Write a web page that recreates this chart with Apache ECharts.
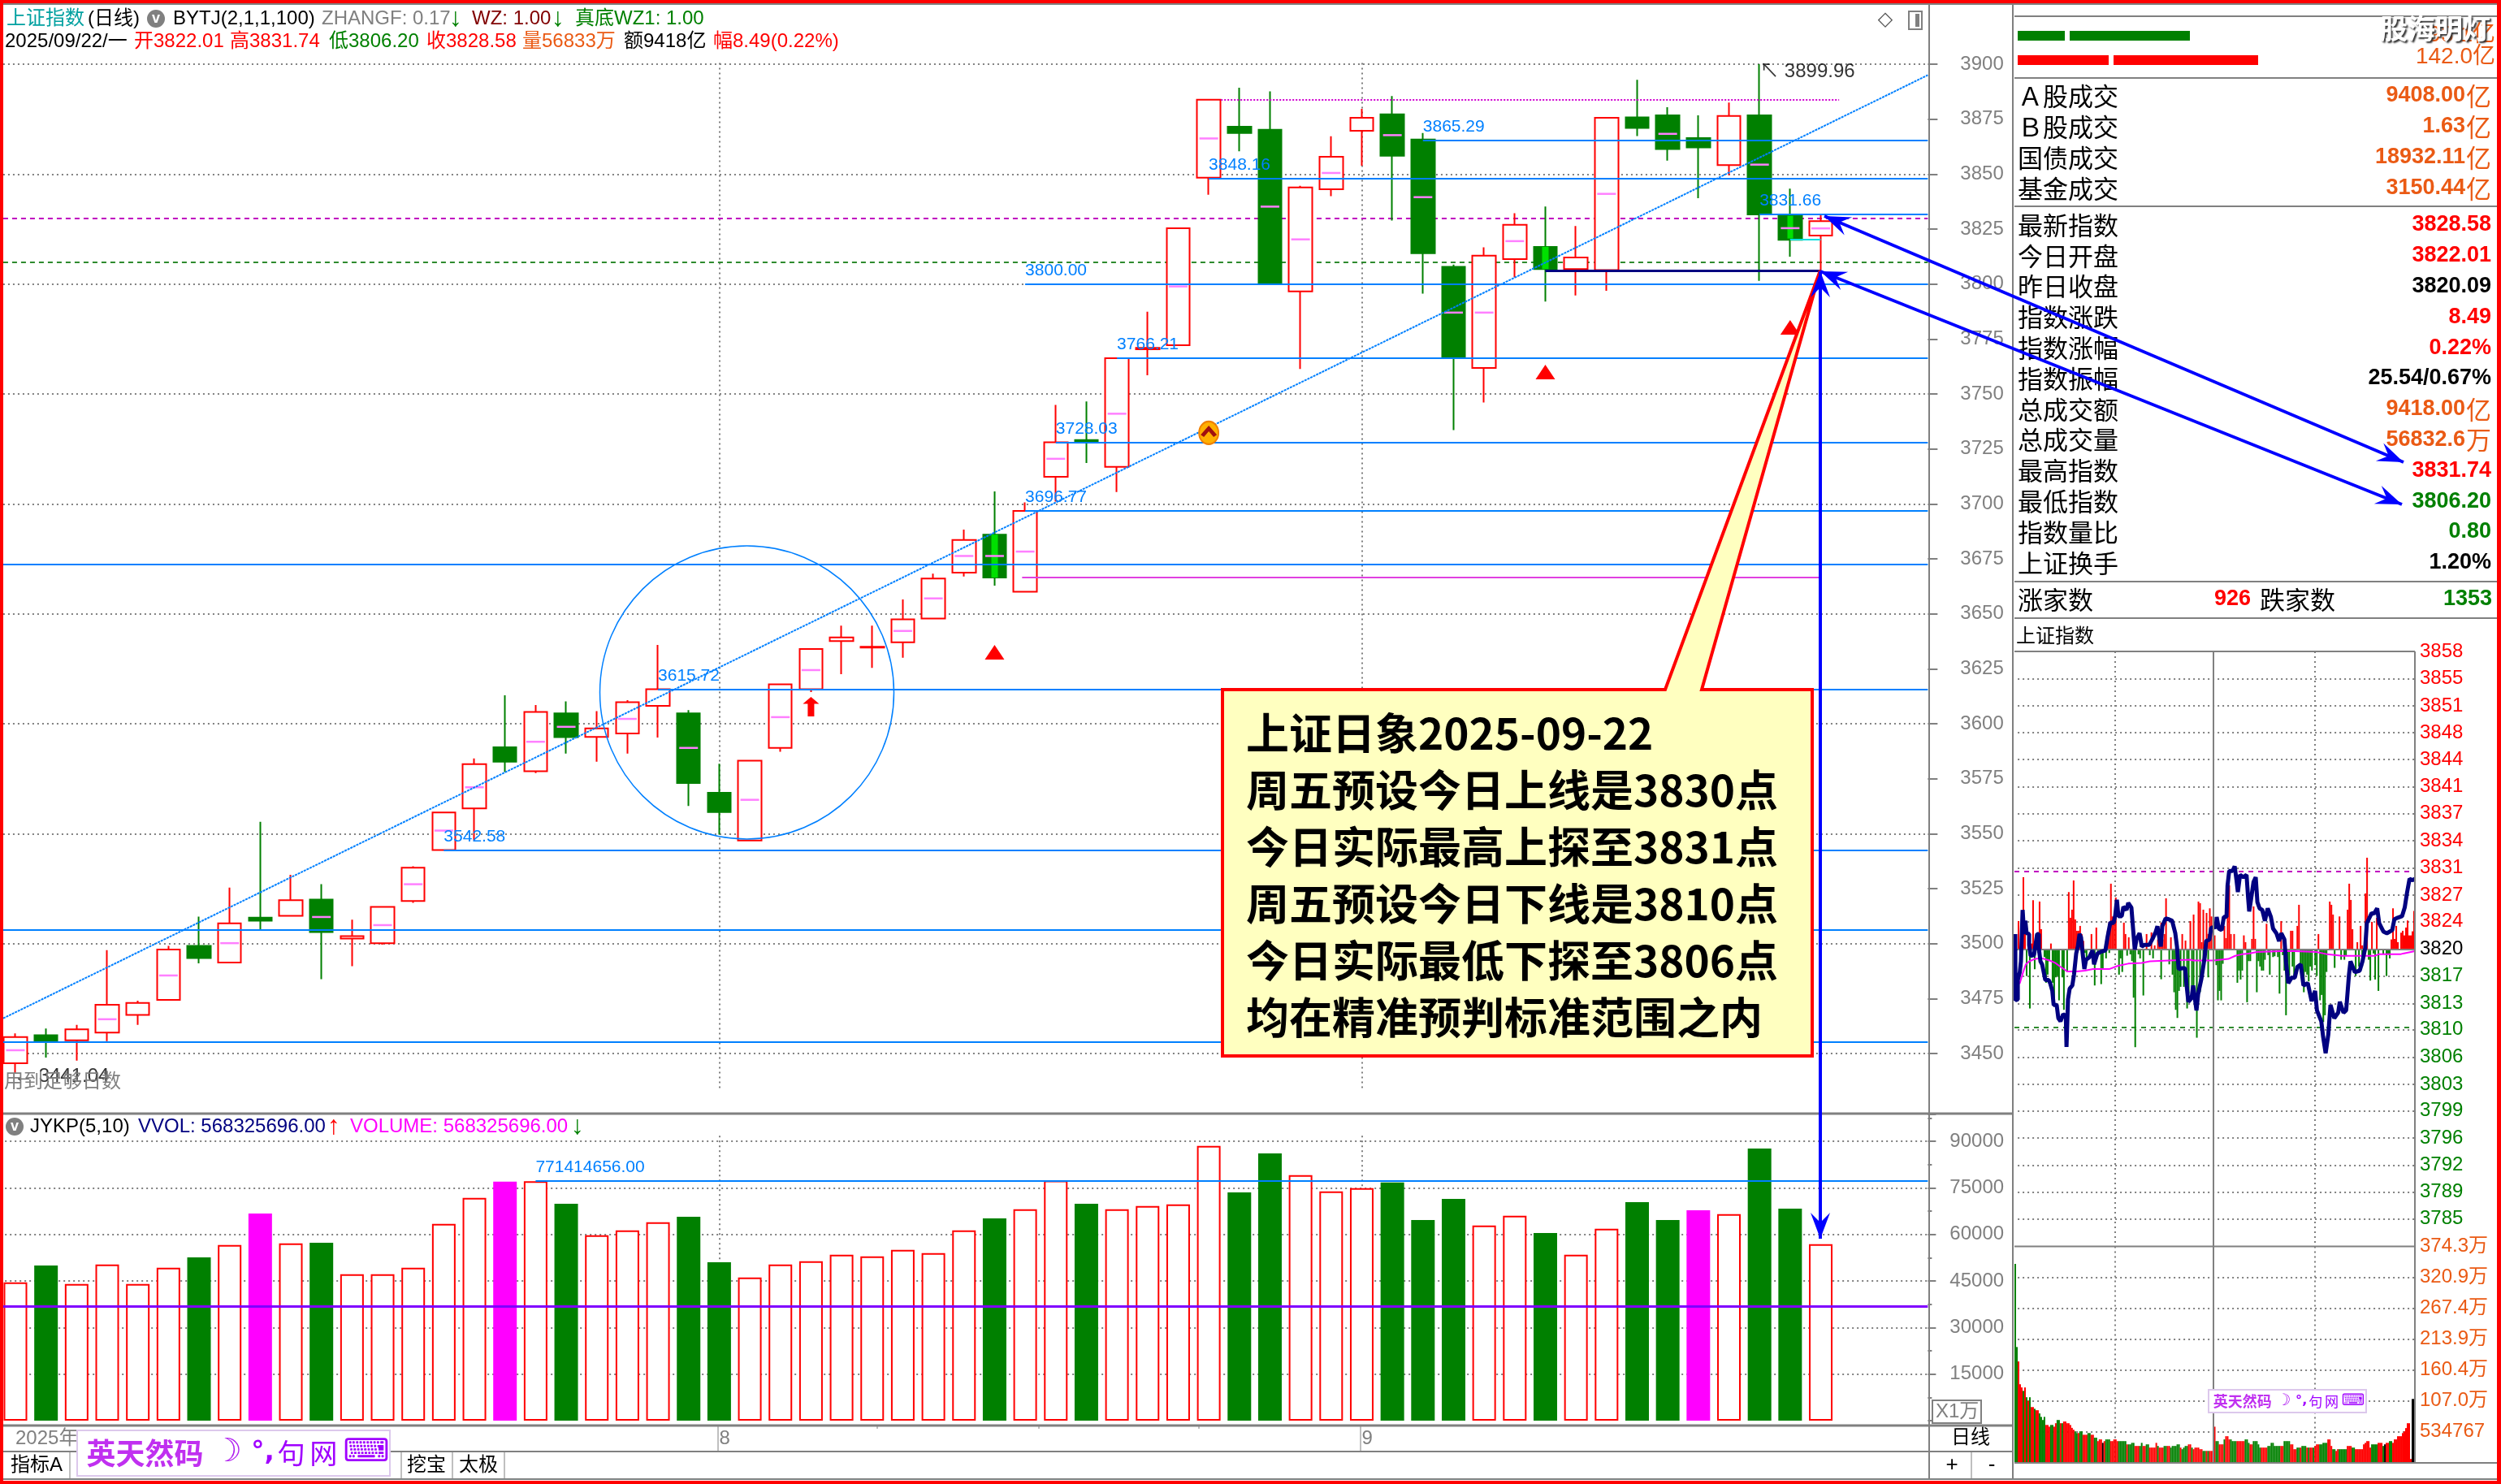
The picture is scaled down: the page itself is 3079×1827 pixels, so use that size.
<!DOCTYPE html>
<html>
<head>
<meta charset="utf-8">
<title>上证指数</title>
<script src="https://cdn.jsdelivr.net/npm/echarts@6/dist/echarts.min.js"></script>
<style>
html, body { margin: 0; padding: 0; background: #fff; }
#main { width: 3079px; height: 1827px; }
</style>
</head>
<body>
<div id="main"></div>
<script>
// 日线 7-9月
var tradeDates = [
    '07-01','07-02','07-03','07-04','07-07','07-08','07-09','07-10','07-11','07-14','07-15','07-16','07-17','07-18','07-21','07-22','07-23','07-24','07-25','07-28','07-29','07-30','07-31',
    '08-01','08-04','08-05','08-06','08-07','08-08','08-11','08-12','08-13','08-14','08-15','08-18','08-19','08-20','08-21','08-22','08-25','08-26','08-27','08-28','08-29',
    '09-01','09-02','09-03','09-04','09-05','09-08','09-09','09-10','09-11','09-12','09-15','09-16','09-17','09-18','09-19','09-22','','',''
];
var monthMarks = { 0: '2025年', 23: '8', 44: '9' };

var opens = [3445.6,3458.3,3456,3459.5,3467.6,3474.4,3499,3491.4,3511.8,3512.6,
    3520,3502.3,3500.2,3519.4,3542.6,3561.5,3589.3,3578.4,3604.7,3594,
    3595.6,3608.1,3604.7,3568.6,3546.9,3589,3615.7,3637.6,3634.6,3637,
    3647.8,3668.7,3686,3660,3712.3,3729,3716.8,3770.3,3772.2,3848.4,
    3871.5,3870.2,3796.6,3843.1,3869.7,3877.2,3865.7,3807.8,3761.8,3811.3,
    3816.9,3806.8,3806.3,3875.8,3876.7,3866.4,3854.1,3876.7,3831,3822.01];
var closes = [3457.5,3455.6,3461,3472.2,3473,3497.3,3493.4,3509.2,3510.4,3519.7,
    3505.2,3503.4,3516.7,3534.5,3559.6,3581.6,3582.7,3605.4,3593.9,3597.9,
    3609.8,3615.72,3573,3559.8,3583.2,3617.9,3634,3639.3,3635,3647.5,
    3666,3683.6,3666.5,3696.77,3728.03,3728,3766.21,3771,3825.4,3883.8,
    3868.7,3800.5,3843.9,3857.9,3875.6,3858.3,3814,3766.6,3812.9,3826.9,
    3806.8,3812.1,3875.6,3871,3861.4,3862.1,3876.4,3831.66,3820.09,3828.58];
var lows = [3441.04,3448.2,3446.8,3455.6,3463,3474.4,3491,3491.4,3506.5,3512.6,
    3483.8,3489.7,3499.5,3518.5,3542.3,3547,3578,3577.6,3586.4,3582.7,
    3586.4,3593.7,3562.6,3549.6,3546.5,3587.3,3614.4,3622.5,3625.4,3630,
    3647.8,3667,3662.8,3660,3701,3718.6,3705.4,3758.5,3771.9,3840.6,
    3860.4,3800.5,3761.4,3840,3853.8,3828.9,3795.6,3733.6,3746.1,3803,
    3792,3794.8,3796.9,3867.3,3856.1,3839,3849.5,3801.4,3812.4,3806.2];
var highs = [3459.2,3461.4,3463,3497,3474,3499,3512.3,3525.5,3555.4,3531.3,
    3527,3510.9,3516.9,3535.2,3560,3584.2,3612.9,3608.5,3610.2,3605.7,
    3610.7,3635.8,3606.2,3581.8,3583.2,3618,3634.4,3644.6,3644.6,3656.5,
    3668.3,3688.3,3705.7,3700.7,3745,3746.6,3766.4,3787.4,3825.7,3884,
    3889.3,3887.6,3844.7,3867.2,3879.7,3885.5,3868.7,3808.8,3816.7,3832.2,
    3835.2,3826.4,3875.6,3892.9,3880.4,3876.7,3882.5,3899.96,3843.4,3831.74];

// 实体中间的粉色短线 [序号, 价位]
var midTicks = [[0,3451.5],[3,3465.6],[5,3485.5],[7,3500.2],[10,3512.1],[12,3508.4],[13,3527],[14,3551.4],[15,3571.1],[17,3591.8],
    [18,3598.6],[20,3602.2],[22,3589],[24,3565.4],[25,3603],[26,3624.4],[29,3642.2],[30,3657],[31,3676.3],[32,3676.3],
    [33,3678.3],[34,3720.5],[36,3741],[38,3798.9],[39,3866.2],[41,3835.2],[42,3820.3],[43,3850.5],[45,3867.7],[46,3839.5],
    [47,3787],[48,3787],[49,3819.5],[52,3841],[54,3868.3],[57,3854.3],[58,3825.4],[59,3825.3]];
var limeCandles = [[32,3686,3666.5],[50,3816.9,3806.8],[58,3831,3820.7]];

var dailyVolume = [44559,49966,44036,50314,44036,49268,52582,56593,66708,57116,
    57290,47175,47175,49268,63394,71766,77000,77141,69847,59732,
    61302,63918,65662,51012,46129,50314,51361,53454,52930,55023,
    53977,61302,65138,68103,77300,69847,68103,69150,69673,88508,
    73510,86066,79090,73858,74905,76736,64615,71417,62871,66010,
    60430,53454,61825,70370,64615,67754,66534,87636,68278,56833];
var volumeKinds = 'rgrrrrgrmr' + 'grrrrrmrgr' + 'rrggrrrrrr' + 'rrgrrgrrrr' + 'ggrrrgggrr' + 'grrggmrggr';

// 分时
var minuteTimes = [0.5,0.6,2,2,3.2,3.9,4.9,5.8,6.5,7.3,8.8,8.8,9.7,11.7,13.6,14.6,14.6,15.6,16.6,18.5,
    20.5,21.4,22.7,23.5,25.3,26.3,27.6,29.2,30.8,31.2,32.1,33.1,34.7,35.7,37,38,39,39.9,40.9,41.9,
    42.9,44.8,46.8,47.7,49.7,51.6,54.5,55.8,57.5,59.4,60.4,61.4,62.3,64.3,65.3,67.2,68.2,70.1,71.1,72.1,
    73.1,75,76.3,77.9,80.8,82.8,84.7,85.7,87.7,88.6,90.6,92.5,94.5,96.4,97.4,98.4,100.3,102.3,103.2,104.2,
    106.2,107.1,109.1,110.1,112,114,114.9,116.9,117.9,120.8,121.2,122.5,124.2,125.5,127.1,127.7,128.7,130.7,132,133.1,
    133.9,135.2,137.2,139.1,140.1,140.7,141.7,143.3,144.6,145.6,146.9,148.5,150.1,151.8,153.7,155,157,158.6,159.9,161.8,
    162.8,164.1,166.1,168,169.6,171.6,173.2,175.8,178.1,180.2,181.3,183.9,185,186.5,188.1,189.4,191.7,194,195,197.2,
    198.8,200.5,201.4,204,206.9,208.6,210.2,211.2,214.1,215.4,217.4,218.6,221.2,223.2,226.4,227.7,229.7,232.3,233.9,235.2,
    236.8,238.6,240];
var minutePrices = [3822,3813.5,3813.6,3816.1,3817.1,3818.5,3825.1,3822,3823.7,3822.1,3822,3820.6,3819.2,3819.3,3822,3822,3820.2,3818.5,3818.1,3816.1,
    3816.1,3815.7,3814.7,3812.9,3812.9,3811.2,3810.8,3811.7,3811.5,3807.5,3813.6,3815,3815.4,3816.8,3819.5,3820.4,3822,3821.6,3819.5,3817.5,
    3818.7,3819,3819.9,3818.1,3819.5,3819.7,3819.9,3821.6,3823.5,3823.4,3824.4,3826.4,3824.3,3824.3,3825.5,3825.1,3826,3825.4,3822.7,3820,
    3821.3,3822.1,3820.4,3820.6,3820.6,3821.4,3822.3,3823,3820.4,3823,3824,3823.9,3823.7,3822.1,3820.4,3817.5,3817.6,3817.6,3815.4,3813.3,
    3813.8,3815.4,3812.2,3814.3,3816.2,3819,3821.1,3821.3,3822.8,3822.9,3824.2,3822.7,3822.5,3824.2,3824.2,3828.2,3830.1,3830.1,3830.7,3828.9,
    3827.4,3829.6,3829.3,3829.6,3826.5,3824.9,3826.3,3828.7,3829.3,3826.1,3825.3,3825.1,3823.7,3825.3,3824.2,3822.7,3822.1,3821.1,3822.1,3821.3,
    3818.3,3815.7,3816.4,3816.4,3817.8,3818.1,3815.4,3815.7,3813.4,3814.7,3812.2,3810.8,3808.8,3806.7,3809.1,3812.9,3811.2,3811.9,3813.3,3811.9,
    3812.2,3816.8,3818.5,3817.1,3817.3,3818.5,3820.2,3823.4,3824.7,3824.6,3825.3,3823.4,3822.3,3822.1,3822.5,3823.9,3824.1,3824.3,3825.4,3827.2,
    3829.1,3828.9,3829.1];
var avgTimes = [0.5,3.2,5.2,6.8,8.9,12.2,16.2,21.1,24.4,27.6,31.7,37.3,42.2,47.1,56.8,61.7,68.2,76.3,81.2,92.5,105.5,107.1,119.3,128.2,132.3,136.3,140.4,145.3,159.9,168,181,187.5,196.4,215.9,218.3,231.3,232.9,240];
var avgPrices = [3815.4,3815.7,3817.1,3818.1,3818.5,3818.8,3818.9,3818.6,3818.3,3817.8,3817.2,3817.2,3817.3,3817.5,3817.5,3817.9,3818.2,3818.3,3818.5,3818.6,3818.7,3818.6,3818.6,3818.8,3819.2,3819.4,3819.5,3819.7,3819.8,3819.8,3819.7,3819.4,3819.2,3819.2,3819.4,3819.4,3819.5,3819.8];

// 分时红绿柱 [列, 强度]
var redBars = [[2,103],[5,265],[6,103],[10,20],[11,180],[12,20],[14,60],[15,175],[16,73],[22,20],[33,210],[34,115],[35,145],[36,253],[37,109],[38,67],[39,67],[40,85],[41,55],[42,30],
    [47,55],[50,79],[57,67],[58,100],[59,241],[60,120],[61,115],[62,190],[67,97],[68,55],[70,43],[81,55],[84,61],[86,13],[88,35],[89,73],[90,97],[91,35],[92,55],[93,187],
    [96,43],[103,55],[105,31],[108,103],[110,127],[113,175],[114,169],[115,25],[116,145],[118,133],[119,55],[120,150],[121,120],[123,50],[129,85],[130,40],[131,233],[132,235],[133,55],[135,55],
    [141,50],[142,25],[146,37],[147,157],[148,37],[155,93],[164,103],[170,67],[171,67],[174,85],[175,163],[187,55],[194,175],[195,163],[196,127],[200,120],[205,145],[206,241],[207,181],[208,73],
    [211,25],[213,85],[214,13],[216,205],[217,337],[220,100],[223,115],[232,35],[233,150],[234,37],[235,85],[236,25],[238,60],[239,67],[240,50],[241,79],[242,105],[243,50],[244,50],[245,65],[246,140]];
var greenBars = [[3,-40],[4,-65],[7,-100],[9,-220],[12,-75],[14,-15],[15,-50],[18,-30],[19,-125],[20,-95],[21,-45],[23,-125],[24,-190],[25,-105],[26,-100],[27,-190],[29,-105],[30,-225],[32,-85],[43,-15],
    [44,-45],[49,-135],[51,-25],[53,-130],[54,-75],[56,-35],[58,-15],[64,-95],[65,-35],[66,-85],[69,-25],[71,-20],[72,-45],[73,-180],[74,-363],[76,-20],[77,-35],[79,-172],[83,-23],[85,-35],
    [90,-112],[95,-57],[97,-95],[98,-160],[99,-225],[100,-255],[101,-155],[102,-140],[104,-140],[106,-220],[107,-165],[109,-170],[110,-155],[112,-328],[114,-160],[116,-45],[119,-105],[124,-60],[125,-190],[126,-155],
    [127,-190],[128,-55],[137,-125],[138,-80],[139,-113],[140,-80],[143,-197],[144,-45],[145,-45],[149,-160],[150,-45],[151,-65],[152,-80],[153,-80],[154,-40],[156,-23],[157,-95],[159,-30],[160,-27],[162,-30],
    [163,-165],[165,-23],[166,-80],[167,-245],[168,-70],[169,-100],[171,-65],[172,-100],[176,-63],[177,-95],[178,-160],[179,-85],[180,-95],[181,-120],[182,-65],[183,-80],[185,-60],[186,-100],[188,-190],[189,-170],
    [190,-270],[191,-245],[192,-85],[197,-70],[201,-40],[203,-40],[204,-25],[210,-100],[212,-65],[214,-65],[218,-40],[219,-117],[221,-17],[222,-113],[224,-155],[227,-20],[229,-100],[230,-20],[231,-35]];

// 分时量,单位万
var intradayVol = [344,200,175,135.5,130,124,130,113,107,113,
    96,96,93,90.5,90.5,85,79,73.6,79,65,
    65,62,65,65,62,68,73.6,73.6,68,68,
    71,71,68,68,65,60,56.7,54,51,51,
    54,54,48,48,48,51,51,48,48,43,
    43,37,40,40,34,37,40,40,40,37,
    37,40,40,37,37,37,37,37,37,31.4,
    31.4,31.4,34,34,28.6,28.6,28.6,28.6,34,28.6,
    28.6,31.4,31.4,25.8,25.8,25.8,25.8,34,28.6,25.8,
    25.8,25.8,28.6,28.6,28.6,28.6,25.8,28.6,28.6,28.6,
    31.4,31.4,25.8,23,25.8,28.6,28.6,31.4,31.4,25.8,
    23,25.8,25.8,25.8,23,23,20,20,20,20,
    20,20,20,62,37,37,31.4,31.4,31.4,40,
    45.5,45.5,40,40,37,37,37,37,37,37,
    37,37,40,40,34,31.4,31.4,37,37,37,
    31.4,25.8,25.8,25.8,25.8,25.8,28.6,28.6,34,34,
    28.6,28.6,28.6,28.6,28.6,28.6,37,37,37,37,
    31.4,31.4,23,23,25.8,25.8,25.8,28.6,28.6,28.6,
    25.8,25.8,25.8,25.8,25.8,28.6,31.4,31.4,31.4,31.4,
    34,34,34,40,40,28.6,23,23,20,23,
    23,23,23,23,23,28.6,28.6,28.6,25.8,25.8,
    23,23,23,23,23,31.4,34,37,37,25.8,
    31.4,31.4,31.4,31.4,34,34,34,28.6,31.4,34,
    34,37,37,34,40,40,45.5,45.5,45.5,51,
    54,59.6,68,68,6,110,110];
var intradaySides = 'ggrrrgrgrg' + 'rrgrrggggr' + 'rrggrrggrg' + 'rrrrrrrggr' + 'ggrrrggrrg' + 'grrrkrgggr' + 'rrrrgggggr' + 'ggggrrrggr' +
    'rggrrrrrgr' + 'rrggrrgggg' + 'ggrggggrrg' + 'rrrrrrggrg' + 'rrrrggrrrg' + 'rrrggggrrr' + 'rrgggrrggg' + 'ggrrrrgggg' + 'ggggrrgggg' +
    'rrrrggrggg' + 'rgrrgrrrgg' + 'gggrrrggrr' + 'gggggrrrgg' + 'rrrrrrrrrr' + 'ggggrrrgkr' + 'rggrrrrrrr' + 'rrrrrkk';

var priceLevels = [3858.29,3854.8,3851.3,3847.87,3844.4,3840.9,3837.45,3834,3830.5,3827,3823.6,3820.09,3816.6,3813.1,3809.7,3806.2,3802.7,3799.3,3795.8,3792.3,3788.9,3785.4];
var priceLevelText = ['3858','3855','3851','3848','3844','3841','3837','3834','3831','3827','3824','3820','3817','3813','3810','3806','3803','3799','3796','3792','3789','3785'];
var intradayVolText = ['','534767','107.0万','160.4万','213.9万','267.4万','320.9万','374.3万'];

var supportLevels = [['3865.29',46],['3848.16',39],['3831.66',57],['3800.00',33],['3766.21',36],['3728.03',34],['3696.77',33],['3615.72',21],['3542.58',14]];
var fullLevels = [3672.4,3506.2,3455.3];

var panelNames = ['Ａ股成交','Ｂ股成交','国债成交','基金成交','最新指数','今日开盘','昨日收盘','指数涨跌','指数涨幅','指数振幅','总成交额','总成交量','最高指数','最低指数','指数量比','上证换手'];
var panelValues = ['9408.00','1.63','18932.11','3150.44','3828.58','3822.01','3820.09','8.49','0.22%','25.54/0.67%','9418.00','56832.6','3831.74','3806.20','0.80','1.20%'];
var panelUnits = ['亿','亿','亿','亿','','','','','','','亿','万','','','',''];
var panelTones = ['o','o','o','o','r','r','k','r','r','k','o','o','r','g','g','k'];

var noteLines = ['上证日象2025-09-22','周五预设今日上线是3830点','今日实际最高上探至3831点','周五预设今日下线是3810点','今日实际最低下探至3806点','均在精准预判标准范围之内'];

var RED = '#ff0000', GREEN = '#008000', MAGENTA = '#ff00ff', BLUE = '#0080ff', ARROW = '#0000ff', GRAY = '#808080', ORANGE = '#ea5a14';
var LATIN = '"Liberation Sans","Noto Sans CJK SC",sans-serif';
var DOT = [2, 4];

var tones = { o: ORANGE, r: RED, g: GREEN, k: '#000' };

function txt(x, y, text, color, size, opt) {
    opt = opt || {};
    return {
        type: 'text', z: opt.z || 120, silent: true,
        style: {
            x: x, y: y, text: text, fill: color,
            font: (opt.weight || 'normal') + ' ' + size + 'px ' + (opt.family || LATIN),
            align: opt.align || 'left', verticalAlign: 'middle',
            textShadowColor: opt.shadow, textShadowBlur: opt.shadow ? 2 : 0, textShadowOffsetX: opt.shadow ? 2 : 0, textShadowOffsetY: opt.shadow ? 2 : 0
        }
    };
}

function seg(x1, y1, x2, y2, color, width, dash, z) {
    return {
        type: 'line', z: z || 90, silent: true,
        shape: { x1: x1, y1: y1, x2: x2, y2: y2 },
        style: { stroke: color, lineWidth: width || 2, lineDash: dash }
    };
}

function box(x, y, w, h, fill, stroke, z) {
    return {
        type: 'rect', z: z || 90, silent: true,
        shape: { x: x, y: y, width: w, height: h },
        style: { fill: fill, stroke: stroke, lineWidth: stroke ? 2 : 0 }
    };
}

function arrowHead(tx, ty, fx, fy) {
    var d = Math.sqrt((tx - fx) * (tx - fx) + (ty - fy) * (ty - fy));
    var ux = (tx - fx) / d, uy = (ty - fy) / d;
    var bx = tx - ux * 32, by = ty - uy * 32;
    var nx = tx - ux * 20, ny = ty - uy * 20;
    return {
        type: 'polygon', z: 140, silent: true,
        shape: { points: [[tx, ty], [bx - uy * 12, by + ux * 12], [nx, ny], [bx + uy * 12, by - ux * 12]] },
        style: { fill: ARROW }
    };
}

function doubleArrow(x1, y1, x2, y2) {
    return [seg(x1, y1, x2, y2, ARROW, 4, null, 139), arrowHead(x1, y1, x2, y2), arrowHead(x2, y2, x1, y1)];
}

function imeBar(x, y, w, h, size) {
    var s = size, cy = y + h / 2, fam = '"Noto Sans CJK SC",sans-serif';
    return [
        { type: 'rect', z: 130, silent: true, shape: { x: x, y: y, width: w, height: h }, style: { fill: '#fff', stroke: '#dcc8ec', lineWidth: 2 } },
        txt(x + w * 0.03, cy, '英天然码', '#c030f0', s, { z: 131, weight: 'bold', family: fam }),
        txt(x + s * 4.65, cy, '☽', '#b020f0', s * 1.1, { z: 131, weight: 'bold', family: '"DejaVu Sans"' }),
        txt(x + s * 5.95, cy, '°,', '#a000ff', s * 0.9, { z: 131, weight: 'bold', family: '"DejaVu Sans"' }),
        txt(x + s * 6.85, cy, '句', '#a000ff', s * 0.95, { z: 131, family: fam }),
        txt(x + s * 7.95, cy, '网', '#a000ff', s * 0.95, { z: 131, family: fam }),
        txt(x + s * 9.1, cy, '⌨', '#a000ff', s * 1.1, { z: 131, family: '"DejaVu Sans"' })
    ];
}

// 只画标注线的系列,坐标走覆盖在同一网格上的数值x轴
function lineGroup(name, xIdx, yIdx, lines, style, z, labelOn) {
    return {
        name: name, type: 'line', xAxisIndex: xIdx, yAxisIndex: yIdx, data: [], z: z, silent: true,
        markLine: {
            silent: true, symbol: 'none', animation: false, z: z,
            lineStyle: style,
            label: labelOn ? { show: true, position: 'insideStartTop', formatter: '{b}', color: BLUE, fontSize: 21, fontFamily: LATIN, distance: 6, padding: [0, 0, 0, -6] } : { show: false },
            emphasis: { disabled: true },
            data: lines
        }
    };
}

function hLine(v, x0, x1, name) {
    return [{ coord: [x0, v], name: name }, { coord: [x1, v] }];
}

var LEFT_END = -0.4, RIGHT_END = 62.5;

var candleData = opens.map(function (o, i) { return [o, closes[i], lows[i], highs[i]]; });

var mainGrid50 = [3900, 3850, 3800, 3750, 3700, 3650, 3600, 3550, 3500, 3450].map(function (v) { return hLine(v, LEFT_END, RIGHT_END); });
var mainVertical = [23, 44].map(function (i) { return [{ coord: [i, 3900.5] }, { coord: [i, 3433] }]; });
var volVertical = [23, 44].map(function (i) { return [{ coord: [i, 91800] }, { coord: [i, 0] }]; });

var labeled = supportLevels.map(function (s) { return hLine(parseFloat(s[0]), s[1], RIGHT_END, s[0]); });
var plainBlue = fullLevels.map(function (v) { return hLine(v, LEFT_END, RIGHT_END); });

var volData = dailyVolume.map(function (v, i) {
    var k = volumeKinds.charAt(i);
    if (k === 'g') return { value: v, itemStyle: { color: GREEN, borderWidth: 0 } };
    if (k === 'm') return { value: v, itemStyle: { color: MAGENTA, borderWidth: 0 } };
    return { value: v, itemStyle: { color: '#fff', borderColor: RED, borderWidth: 2 } };
});
var sideColor = { r: RED, g: GREEN, k: '#000' };
var intradayVolData = intradayVol.map(function (v, i) {
    return { value: v, itemStyle: { color: sideColor[intradaySides.charAt(i)] } };
});
var columns = intradayVol.map(function (v, i) { return i; });

var priceDots = priceLevels.filter(function (v) { return v !== 3820.09 && v !== 3858.29; }).map(function (v) { return hLine(v, 2, 240); });
var volDots = [53.47, 106.94, 160.41, 213.88, 267.35, 320.82].map(function (v) { return hLine(v, 2, 240); });
var minuteVert = function (top, bottom) {
    return [60, 180].map(function (m) { return [{ coord: [m, top] }, { coord: [m, bottom] }]; });
};

var option = {
    animation: false,
    backgroundColor: '#fff',
    textStyle: { fontFamily: LATIN },
    grid: [
        { left: 0.16, top: 11.3, width: 2373.2, height: 1353.4 },
        { left: 0.16, top: 1372, width: 2373.2, height: 377 },
        { left: 2480, top: 802, width: 493, height: 732.5 },
        { left: 2480, top: 1534.5, width: 493, height: 266 },
        { left: 2484, top: 29, width: 300, height: 60 }
    ],
    xAxis: [
        { type: 'category', gridIndex: 0, data: tradeDates, axisLine: { show: false, onZero: false }, axisTick: { show: false }, axisLabel: { show: false } },
        {
            type: 'category', gridIndex: 1, data: tradeDates, axisLine: { show: false, onZero: false }, axisTick: { show: false },
            axisLabel: {
                color: GRAY, fontSize: 24, fontFamily: LATIN, align: 'left', margin: 10,
                interval: function (i) { return monthMarks[i] !== undefined; },
                formatter: function (v, i) { return monthMarks[i] || ''; }
            }
        },
        { type: 'value', gridIndex: 0, min: -0.5, max: 62.5, show: false, axisLine: { onZero: false } },
        { type: 'value', gridIndex: 1, min: -0.5, max: 62.5, show: false, axisLine: { onZero: false } },
        { type: 'value', gridIndex: 2, min: 0, max: 240, show: false, axisLine: { onZero: false } },
        { type: 'value', gridIndex: 3, min: 0, max: 240, show: false, axisLine: { onZero: false } },
        { type: 'category', gridIndex: 2, data: columns, show: false, axisLine: { onZero: false } },
        { type: 'category', gridIndex: 3, data: columns, show: false, axisLine: { onZero: false } },
        { type: 'value', gridIndex: 4, min: 0, max: 300, show: false, axisLine: { onZero: false } }
    ],
    yAxis: [
        {
            type: 'value', gridIndex: 0, position: 'right', min: 3425, max: 3925, interval: 25, splitLine: { show: false }, axisLine: { show: false, onZero: false },
            axisTick: { length: 12, lineStyle: { color: GRAY, width: 2 } },
            axisLabel: { color: GRAY, fontSize: 24, fontFamily: LATIN, margin: 40, showMinLabel: false, showMaxLabel: false, formatter: function (v) { return String(v); } }
        },
        {
            type: 'value', gridIndex: 1, position: 'right', min: 0, max: 98640, interval: 15000, axisLine: { show: false, onZero: false },
            splitLine: { show: true, showMinLine: false, showMaxLine: false, lineStyle: { color: GRAY, width: 2, type: DOT } },
            axisTick: { length: 10, lineStyle: { color: GRAY, width: 2 } },
            minorTick: { show: true, splitNumber: 2, length: 5, lineStyle: { color: GRAY, width: 2 } },
            axisLabel: { color: GRAY, fontSize: 24, fontFamily: LATIN, margin: 27, showMinLabel: false, showMaxLabel: false, formatter: function (v) { return String(v); } }
        },
        {
            type: 'value', gridIndex: 2, position: 'right', min: 3781.89, max: 3858.29, splitLine: { show: false }, axisLine: { show: false, onZero: false }, axisTick: { show: false },
            axisLabel: {
                customValues: priceLevels, margin: 6, fontSize: 24, fontFamily: LATIN,
                color: function (v) { return v > 3821 ? RED : (v < 3819 ? GREEN : '#000'); },
                formatter: function (v) { return priceLevelText[priceLevels.indexOf(v)]; }
            }
        },
        { type: 'value', gridIndex: 2, min: -1099, max: 1099, show: false, axisLine: { onZero: false } },
        {
            type: 'value', gridIndex: 3, position: 'right', min: 0, max: 374.29, interval: 53.47, splitLine: { show: false }, axisLine: { show: false, onZero: false }, axisTick: { show: false },
            axisLabel: {
                margin: 6, color: ORANGE, fontSize: 24, fontFamily: LATIN,
                formatter: function (v) { return intradayVolText[Math.round(v / 53.47)]; }
            }
        },
        { type: 'category', gridIndex: 4, inverse: true, data: ['跌', '涨'], show: false, axisLine: { onZero: false } }
    ],
    series: [
        lineGroup('网格', 2, 0, mainGrid50.concat(mainVertical), { color: GRAY, width: 2, type: DOT }, 1),
        lineGroup('上线', 2, 0, [hLine(3830, LEFT_END, RIGHT_END)], { color: '#c000c0', width: 2, type: [6, 5] }, 1),
        lineGroup('下线', 2, 0, [hLine(3810, LEFT_END, RIGHT_END)], { color: '#2e8b2e', width: 2, type: [6, 5] }, 1),
        {
            name: '上证指数', type: 'candlestick', xAxisIndex: 0, yAxisIndex: 0, barWidth: 29, z: 2, data: candleData,
            itemStyle: { color: '#fff', color0: GREEN, borderColor: RED, borderColor0: GREEN, borderWidth: 2 }
        },
        {
            name: '亮条', type: 'candlestick', xAxisIndex: 0, yAxisIndex: 0, barWidth: 8, z: 3,
            data: limeCandles.map(function (c) { return { value: [c[0], c[2], c[1], c[2], c[1]] }; }),
            encode: { x: 0, y: [1, 2, 3, 4] },
            itemStyle: { color: '#00e000', color0: '#00e000', borderColor: '#00e000', borderColor0: '#00e000', borderWidth: 0 }
        },
        {
            name: '中点', type: 'scatter', xAxisIndex: 0, yAxisIndex: 0, symbol: 'rect', symbolSize: [23, 2.5], z: 4, silent: true,
            itemStyle: { color: '#ff80ff', opacity: 1 }, data: midTicks
        },
        lineGroup('支撑压力', 2, 0, labeled, { color: BLUE, width: 2, type: 'solid' }, 5, true),
        lineGroup('水平线', 2, 0, plainBlue, { color: BLUE, width: 2, type: 'solid' }, 5),
        lineGroup('趋势线', 2, 0, [[{ coord: [LEFT_END, 3466] }, { coord: [RIGHT_END, 3895] }]], { color: BLUE, width: 2, type: [3, 1] }, 5),
        lineGroup('高点线', 2, 0, [hLine(3883.8, 39.4, 59.6)], { color: '#d000d0', width: 2, type: [2, 2] }, 5),
        lineGroup('紫线', 2, 0, [hLine(3666.6, 32.9, 59)], { color: '#e040e0', width: 2, type: 'solid' }, 5),
        lineGroup('低点线', 2, 0, [hLine(3806.2, 50, 59)], { color: '#000080', width: 3, type: 'solid' }, 5),
        lineGroup('昨收线', 2, 0, [hLine(3820.3, 58, 59)], { color: '#00e0e0', width: 2, type: 'solid' }, 5),
        {
            name: '三角', type: 'scatter', xAxisIndex: 0, yAxisIndex: 0, symbol: 'triangle', symbolSize: [24, 18], z: 6, silent: true,
            itemStyle: { color: RED, opacity: 1 }, data: [[32, 3632.5], [50, 3760], [58, 3780.3]]
        },
        {
            name: '箭头', type: 'scatter', xAxisIndex: 0, yAxisIndex: 0, symbol: 'path://M5,0 L10,5 L7,5 L7,14 L3,14 L3,5 L0,5 Z', symbolSize: [20, 24], z: 6, silent: true,
            itemStyle: { color: RED, opacity: 1 }, data: [[26, 3607.8]]
        },
        {
            name: '买点', type: 'scatter', xAxisIndex: 0, yAxisIndex: 0, symbol: 'circle', symbolSize: [24, 28], z: 6, silent: true,
            itemStyle: { color: '#ffb000', borderColor: '#f08000', borderWidth: 2, opacity: 1 }, data: [[39, 3732.3]]
        },
        {
            name: '买点纹', type: 'scatter', xAxisIndex: 0, yAxisIndex: 0, symbol: 'path://M0,8 L5,0 L10,8 L8,10 L5,5 L2,10 Z', symbolSize: [20, 14], z: 7, silent: true,
            itemStyle: { color: '#a01010', opacity: 1 }, data: [[39, 3733]]
        },
        {
            name: '最高', type: 'scatter', xAxisIndex: 0, yAxisIndex: 0, symbolSize: 0, z: 7, silent: true, data: [[57, 3899.96]],
            label: { show: true, position: 'right', distance: 0, offset: [0, 9], color: '#000', fontSize: 24, fontFamily: LATIN, formatter: function (p) { return '↖ ' + p.value[1].toFixed(2); } }
        },
        {
            name: '最低', type: 'scatter', xAxisIndex: 0, yAxisIndex: 0, symbolSize: 0, z: 7, silent: true, data: [[0, 3441.04]],
            label: { show: true, position: 'right', distance: 0, offset: [-2, 4], color: '#000', fontSize: 24, fontFamily: LATIN, formatter: function (p) { return '← ' + p.value[1].toFixed(2); } }
        },

        lineGroup('量竖线', 3, 1, volVertical, { color: GRAY, width: 2, type: DOT }, 1),
        { name: 'VOLUME', type: 'bar', xAxisIndex: 1, yAxisIndex: 1, barWidth: 29, z: 2, data: volData },
        lineGroup('最大量', 3, 1, [hLine(77141, 17, RIGHT_END, '771414656.00')], { color: BLUE, width: 2, type: 'solid' }, 5, true),
        lineGroup('均量', 3, 1, [hLine(36711, LEFT_END, RIGHT_END)], { color: '#8000ff', width: 3, type: 'solid' }, 5),

        lineGroup('分时网格', 4, 2, priceDots.concat(minuteVert(3858.29, 3781.89)), { color: GRAY, width: 2, type: DOT }, 1),
        lineGroup('分时上线', 4, 2, [hLine(3830, 0, 240)], { color: '#c000c0', width: 2, type: [6, 6] }, 1),
        lineGroup('分时下线', 4, 2, [hLine(3810, 0, 240)], { color: '#2e8b2e', width: 2, type: [6, 6] }, 1),
        { name: '红柱', type: 'bar', xAxisIndex: 6, yAxisIndex: 3, barWidth: 2, barGap: '-100%', z: 2, itemStyle: { color: RED }, data: redBars },
        { name: '绿柱', type: 'bar', xAxisIndex: 6, yAxisIndex: 3, barWidth: 2, barGap: '-100%', z: 2, itemStyle: { color: GREEN }, data: greenBars },
        lineGroup('昨收', 4, 2, [hLine(3820.09, 0, 240)], { color: GRAY, width: 2, type: 'solid' }, 3),
        {
            name: '均价', type: 'line', xAxisIndex: 4, yAxisIndex: 2, showSymbol: false, z: 4, silent: true,
            lineStyle: { color: MAGENTA, width: 2 }, data: avgTimes.map(function (t, i) { return [t, avgPrices[i]]; })
        },
        {
            name: '分时', type: 'line', xAxisIndex: 4, yAxisIndex: 2, showSymbol: false, z: 5, silent: true,
            lineStyle: { color: '#000080', width: 5 }, data: minuteTimes.map(function (t, i) { return [t, minutePrices[i]]; })
        },
        lineGroup('分时量网格', 5, 4, volDots.concat(minuteVert(374.29, 0)), { color: GRAY, width: 2, type: DOT }, 1),
        { name: '分时量', type: 'bar', xAxisIndex: 7, yAxisIndex: 4, barWidth: 2, z: 2, data: intradayVolData },

        { name: '段一', type: 'bar', xAxisIndex: 8, yAxisIndex: 5, stack: 'b', barWidth: 12, data: [{ value: 112, itemStyle: { color: RED } }, { value: 58, itemStyle: { color: GREEN } }].reverse() },
        { name: '间隔', type: 'bar', xAxisIndex: 8, yAxisIndex: 5, stack: 'b', barWidth: 12, itemStyle: { color: 'rgba(0,0,0,0)' }, data: [6, 6] },
        { name: '段二', type: 'bar', xAxisIndex: 8, yAxisIndex: 5, stack: 'b', barWidth: 12, data: [{ value: 148, itemStyle: { color: GREEN } }, { value: 178, itemStyle: { color: RED } }] }
    ],
    graphic: { elements: buildChrome() }
};

function buildChrome() {
    var g = [];
    // 窗口分隔线
    g.push(seg(0, 5, 3079, 5, GRAY, 2));
    g.push(seg(2375, 5, 2375, 1820, GRAY, 2));
    g.push(seg(2478, 5, 2478, 1820, GRAY, 2));
    g.push(seg(0, 1371, 2478, 1371, GRAY, 3));
    g.push(seg(0, 1755, 2478, 1755, GRAY, 3));
    g.push(seg(0, 1787, 2478, 1787, GRAY, 2));
    g.push(seg(0, 1821, 3074, 1821, GRAY, 2));
    g.push(seg(884, 1755, 884, 1787, GRAY, 1));
    g.push(seg(1675, 1755, 1675, 1787, GRAY, 1));
    g.push(seg(1080, 1755, 1080, 1759, GRAY, 1));
    g.push(seg(1279, 1755, 1279, 1759, GRAY, 1));
    g.push(seg(1476, 1755, 1476, 1759, GRAY, 1));
    g.push(seg(2427, 1787, 2427, 1821, GRAY, 1));
    g.push(seg(86, 1787, 86, 1821, GRAY, 1));
    g.push(seg(494, 1787, 494, 1821, GRAY, 1));
    g.push(seg(557, 1787, 557, 1821, GRAY, 1));
    g.push(seg(621, 1787, 621, 1821, GRAY, 1));

    g.push(seg(2480, 20, 3074, 20, GRAY, 2));
    g.push(seg(2480, 96, 3074, 96, GRAY, 2));
    g.push(seg(2480, 254, 3074, 254, GRAY, 2));
    g.push(seg(2480, 716, 3074, 716, GRAY, 2));
    g.push(seg(2480, 761, 3074, 761, GRAY, 2));
    g.push(seg(2480, 802, 2973, 802, GRAY, 2));
    g.push(seg(2480, 1534.5, 2973, 1534.5, GRAY, 2));
    g.push(seg(2480, 1801, 3074, 1801, GRAY, 2));
    g.push(seg(2973, 802, 2973, 1801, GRAY, 2));
    g.push(seg(2725, 802, 2725, 1801, GRAY, 2));

    // 红框
    g.push(box(0, 0, 3079, 4, RED, null, 150));
    g.push(box(0, 0, 4, 1827, RED, null, 150));
    g.push(box(3074, 0, 5, 1827, RED, null, 150));
    g.push(box(0, 1823, 3079, 4, RED, null, 150));

    // 标题
    [['上证指数', 8, '#00a0a0'], ['(日线)', 108, '#000'], ['BYTJ(2,1,1,100)', 213, '#000'], ['ZHANGF: 0.17', 396, GRAY], ['↓', 553, GREEN],
        ['WZ: 1.00', 581, '#800000'], ['↓', 679, GREEN], ['真底WZ1: 1.00', 708, GREEN]].forEach(function (t) {
        g.push(txt(t[1], 23, t[0], t[2], t[0] === '↓' ? 32 : 24));
    });
    [['2025/09/22/一', 6, '#000'], ['开3822.01', 165, RED], ['高3831.74', 283, RED], ['低3806.20', 405, GREEN], ['收3828.58', 525, RED],
        ['量56833万', 643, ORANGE], ['额9418亿', 768, '#000'], ['幅8.49(0.22%)', 878, RED]].forEach(function (t) {
        g.push(txt(t[1], 51, t[0], t[2], 24));
    });
    g.push({ type: 'circle', z: 120, silent: true, shape: { cx: 192, cy: 23, r: 11 }, style: { fill: GRAY } });
    g.push(txt(192, 23, 'v', '#fff', 18, { align: 'center', weight: 'bold' }));
    g.push(txt(2321, 25, '◇', '#555', 24, { align: 'center', family: '"DejaVu Sans"' }));
    g.push(box(2350, 14, 16, 22, '#fff', GRAY, 100));
    g.push(box(2358, 17, 5, 16, GRAY, null, 101));

    // 副图标题
    g.push({ type: 'circle', z: 120, silent: true, shape: { cx: 18, cy: 1387, r: 11 }, style: { fill: GRAY } });
    g.push(txt(18, 1387, 'v', '#fff', 18, { align: 'center', weight: 'bold' }));
    g.push(txt(37, 1387, 'JYKP(5,10)', '#000', 24));
    g.push(txt(170, 1387, 'VVOL: 568325696.00', '#000080', 24));
    g.push(txt(403, 1387, '↑', RED, 32));
    g.push(txt(431, 1387, 'VOLUME: 568325696.00', MAGENTA, 24));
    g.push(txt(703, 1387, '↓', GREEN, 32));

    // 底部
    g.push(txt(5, 1332, '用到足够日数', GRAY, 24, { z: 60 }));
    g.push(txt(13, 1804, '指标A', '#000', 24));
    g.push(txt(501, 1804, '挖宝', '#000', 24));
    g.push(txt(565, 1804, '太极', '#000', 24));
    g.push(txt(2402, 1770, '日线', '#000', 24));
    g.push(txt(2403, 1804, '+', '#000', 26, { align: 'center' }));
    g.push(txt(2452, 1804, '-', '#000', 26, { align: 'center' }));
    g.push(box(2379, 1724, 60, 28, '#fff', GRAY, 100));
    g.push(txt(2383, 1738, 'X1万', GRAY, 24));
    g = g.concat(imeBar(95, 1761, 385, 56, 36));
    g = g.concat(imeBar(2719, 1711, 194, 28, 18));

    // 右侧报价
    var cjk = '"Noto Sans CJK SC",sans-serif';
    panelNames.forEach(function (name, i) {
        var y = i < 4 ? 118 + i * 38 : 277 + (i - 4) * 37.8;
        g.push(txt(2484, y, name, '#000', 31, { family: cjk }));
        var unit = panelUnits[i];
        var right = unit ? 3035 : 3067;
        g.push(txt(right, y, panelValues[i], tones[panelTones[i]], 27, { align: 'right', weight: 'bold', family: '"Liberation Sans"' }));
        if (unit) g.push(txt(3067, y, unit, ORANGE, 31, { align: 'right', family: cjk }));
    });
    g.push(txt(2484, 738, '涨家数', '#000', 31, { family: cjk }));
    g.push(txt(2771, 738, '926', RED, 27, { align: 'right', weight: 'bold', family: '"Liberation Sans"' }));
    g.push(txt(2782, 738, '跌家数', '#000', 31, { family: cjk }));
    g.push(txt(3068, 738, '1353', GREEN, 27, { align: 'right', weight: 'bold', family: '"Liberation Sans"' }));
    g.push(txt(2482, 782, '上证指数', '#000', 24, { family: cjk }));
    g.push(txt(3072, 43, '93.1亿', ORANGE, 28, { align: 'right' }));
    g.push(txt(3072, 70, '142.0亿', ORANGE, 28, { align: 'right' }));
    g.push(txt(2930, 35, '股海明灯', '#fff', 34, { weight: 'bold', family: cjk, shadow: '#333', z: 125 }));

    // 圈
    g.push({
        type: 'ellipse', z: 110, silent: true, shape: { cx: 919.5, cy: 852.5, rx: 181, ry: 180.5 },
        style: { fill: 'none', stroke: BLUE, lineWidth: 1.5 }
    });

    // 文字框
    g.push({
        type: 'polygon', z: 135, silent: true,
        shape: { points: [[1505, 849], [2050, 849], [2241, 333], [2095, 849], [2231, 849], [2231, 1300], [1505, 1300]] },
        style: { fill: '#ffffc0', stroke: RED, lineWidth: 4, lineJoin: 'miter' }
    });
    noteLines.forEach(function (line, i) {
        g.push(txt(1534, 903 + i * 70, line, '#000', 53, { z: 136, weight: 'bold', family: cjk }));
    });

    // 蓝箭头
    g = g.concat(doubleArrow(2241, 334, 2241, 1525));
    g = g.concat(doubleArrow(2246, 266, 2959, 569));
    g = g.concat(doubleArrow(2241, 334, 2957, 621));
    return g;
}

var myChart = echarts.init(document.getElementById('main'));
myChart.setOption(option);
</script>
</body>
</html>
